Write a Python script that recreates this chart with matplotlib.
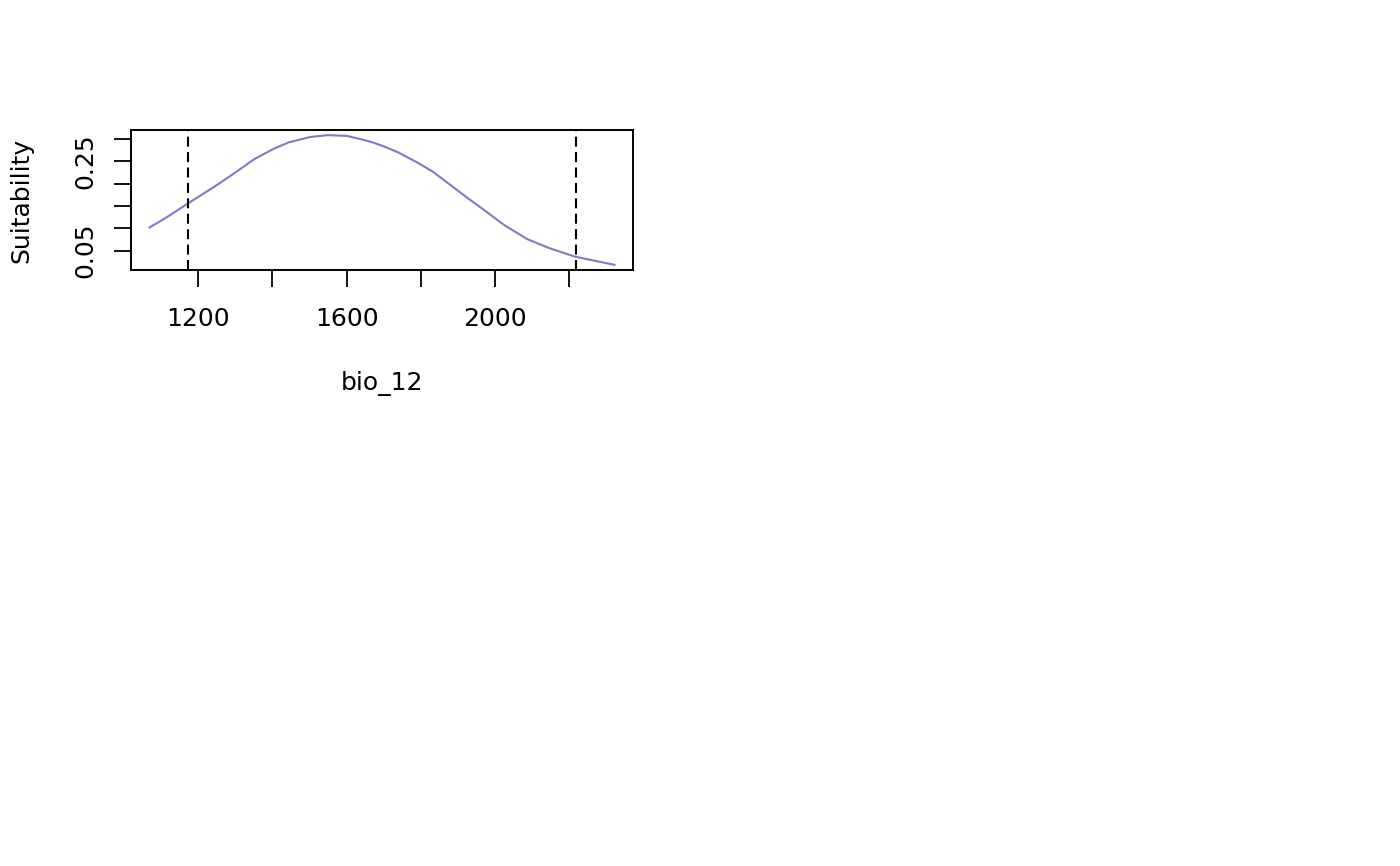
import numpy as np
import matplotlib
matplotlib.use('Agg')
import matplotlib.pyplot as plt
from matplotlib.ticker import FixedLocator, FixedFormatter

# response curve
bio_12 = [1069, 1112, 1175, 1238, 1292, 1350, 1404, 1444, 1502, 1547,
          1600, 1650, 1673, 1700, 1740, 1790, 1830, 1879, 1920, 1969,
          2023, 2086, 2148, 2216, 2274, 2321]
suitability = [0.102, 0.123, 0.157, 0.190, 0.220, 0.254, 0.278, 0.292, 0.304, 0.308,
               0.3065, 0.2965, 0.291, 0.283, 0.269, 0.247, 0.2275, 0.197, 0.171, 0.1415,
               0.108, 0.076, 0.055, 0.0365, 0.0265, 0.0185]
limits = [1173, 2217]

x_ticks = [1200, 1400, 1600, 1800, 2000, 2200]
x_labels = ['1200', '', '1600', '', '2000', '']
y_ticks = [0.05, 0.10, 0.15, 0.20, 0.25, 0.30]
y_labels = ['0.05', '', '', '', '0.25', '']

plt.rcParams['font.family'] = 'DejaVu Sans'
fig = plt.figure(figsize=(14, 8.66), dpi=100)
ax = fig.add_axes([131/1400, 1 - 270/866, (633 - 131)/1400, (270 - 130)/866])

ax.plot(bio_12, suitability, color='#7B7BC9', linewidth=1.5, solid_joinstyle='round')
for v in limits:
    ax.axvline(v, color='black', linewidth=1.5, linestyle=(0, (4.8, 2.6)))

# R style 4% padding
xr = max(bio_12) - min(bio_12)
yr = max(suitability) - min(suitability)
ax.set_xlim(min(bio_12) - 0.04 * xr, max(bio_12) + 0.04 * xr)
ax.set_ylim(min(suitability) - 0.04 * yr, max(suitability) + 0.04 * yr)

ax.xaxis.set_major_locator(FixedLocator(x_ticks))
ax.xaxis.set_major_formatter(FixedFormatter(x_labels))
ax.yaxis.set_major_locator(FixedLocator(y_ticks))
ax.yaxis.set_major_formatter(FixedFormatter(y_labels))
ax.tick_params(axis='both', length=12, width=1.3, labelsize=18, color='black')
ax.tick_params(axis='x', pad=15)
ax.tick_params(axis='y', pad=12)
for lab in ax.get_yticklabels():
    lab.set_rotation(90)
    lab.set_va('center')

for s in ax.spines.values():
    s.set_linewidth(1.4)

fig.text(382/1400, 1 - 384/866, 'bio_12', fontsize=18, ha='center', va='center')
fig.text(21/1400, 1 - 200/866, 'Suitability', fontsize=18, ha='center', va='center', rotation=90)

plt.savefig('out.png', dpi=100)
